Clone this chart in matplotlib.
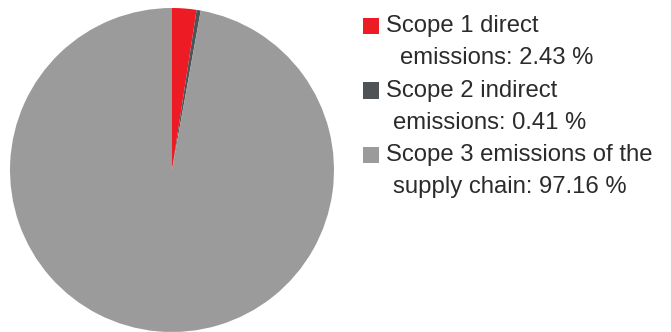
import matplotlib.pyplot as plt
from matplotlib.patches import Rectangle

# 数据
labels_line1 = ['Scope 1 direct', 'Scope 2 indirect', 'Scope 3 emissions of the']
labels_line2 = ['emissions: 2.43 %', 'emissions: 0.41 %', 'supply chain: 97.16 %']
shares = [2.43, 0.41, 97.16]
colors = ['#ED1C24', '#4D5357', '#9B9B9B']

plt.rcParams['font.family'] = ['Liberation Sans', 'DejaVu Sans']

W, H = 671, 332
fig = plt.figure(figsize=(W / 100, H / 100), dpi=100)

# 饼图
ax = fig.add_axes([10 / W, 0 / H, 324 / W, 324 / H])
ax.pie(shares, colors=colors, startangle=90, counterclock=False,
       wedgeprops={'linewidth': 0})
ax.set_xlim(-1, 1)
ax.set_ylim(-1, 1)
ax.set_aspect('equal')
ax.axis('off')

# 图例
indent = [400, 393, 393]
for i in range(3):
    y1 = 26 + i * 64.5
    y2 = y1 + 32.2
    fig.patches.append(Rectangle((363 / W, 1 - (y1 + 8) / H), 16 / W, 16 / H,
                                 transform=fig.transFigure, facecolor=colors[i],
                                 edgecolor='none'))
    fig.text(386 / W, 1 - y1 / H, labels_line1[i], fontsize=17.2, color='#2b2b2b', va='center')
    fig.text(indent[i] / W, 1 - y2 / H, labels_line2[i], fontsize=17.2, color='#2b2b2b', va='center')

plt.savefig('out.png', dpi=100)
